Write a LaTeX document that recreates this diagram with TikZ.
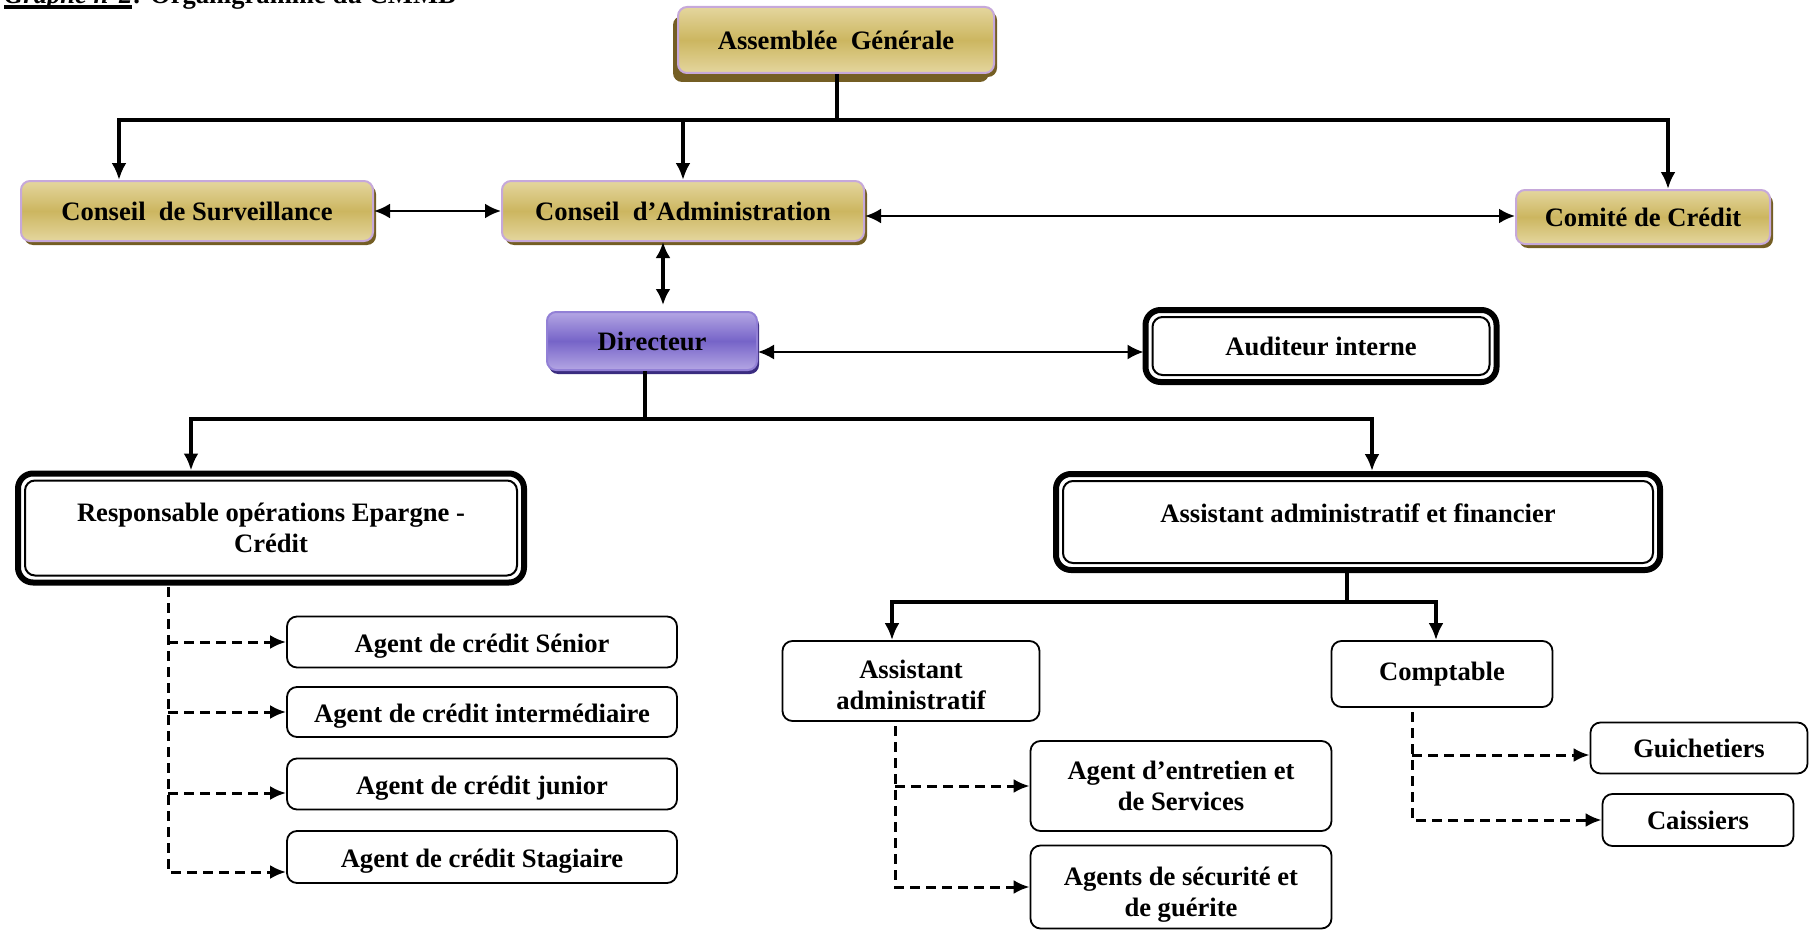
\documentclass[tikz,border=0pt]{standalone}
\usepackage{fontspec}
\setmainfont{Liberation Serif}
\newcommand{\souligne}[1]{\setbox0\hbox{#1}\rlap{\rule[-5pt]{\wd0}{3.5pt}}\box0}
\usepackage{xcolor}
\definecolor{goldlt}{RGB}{228,214,158}
\definecolor{golddk}{RGB}{204,182,96}
\definecolor{goldsh}{RGB}{116,94,36}
\definecolor{lavedge}{RGB}{198,168,218}
\definecolor{purplt}{RGB}{180,166,228}
\definecolor{purpdk}{RGB}{118,100,200}
\definecolor{purpsh}{RGB}{58,44,128}
\definecolor{purpedge}{RGB}{146,128,214}
\usetikzlibrary{arrows.meta, positioning, shadows}

\begin{document}
\begin{tikzpicture}[x=1pt, y=-1pt,
    font=\fontsize{26.6}{31}\selectfont\bfseries,
    goldbox/.style={draw=lavedge, line width=2pt, rounded corners=9pt,
      top color=goldlt, bottom color=goldlt, middle color=golddk,
      align=center, inner sep=0pt,
      drop shadow={shadow xshift=3pt, shadow yshift=-4pt, fill=goldsh, opacity=1}},
    dirbox/.style={draw=purpedge, line width=2pt, rounded corners=9pt,
      top color=purplt, bottom color=purplt, middle color=purpdk,
      align=center, inner sep=0pt,
      drop shadow={shadow xshift=2pt, shadow yshift=-4pt, fill=purpsh, opacity=1}},
    plainbox/.style={draw, line width=1.8pt, rounded corners=10pt, fill=white,
      align=center, inner sep=0pt},
    agentbox/.style={plainbox, minimum width=390pt, text height=26pt, text depth=6pt},
    dblbox/.style={draw, line width=2pt, rounded corners=10pt, fill=white,
      align=center, inner sep=0pt,
      append after command={\pgfextra{\draw[line width=6pt, rounded corners=15pt]
        ([shift={(-6pt,6pt)}]\tikzlastnode.north west) rectangle
        ([shift={(6pt,-6pt)}]\tikzlastnode.south east);}}},
    hier/.style={line width=4pt},
    harr/.style={line width=4pt, -{Latex[length=17pt, width=15pt]}},
    duo/.style={line width=2.6pt, {Latex[length=16pt, width=15pt]}-{Latex[length=16pt, width=15pt]}},
    dsh/.style={line width=3pt, dash pattern=on 10pt off 6pt, -{Latex[length=16pt, width=14pt]}}]

  \useasboundingbox (0,0) rectangle (1815,931);

  % Titre (coupe en haut)
  \node[anchor=base west, inner sep=0pt] (titre) at (4,4)
    {\souligne{\textit{Graphe n°2}} : Organigramme du CMMB};

  % Organes
  \node[goldbox, minimum width=316pt, minimum height=66pt,
    drop shadow={shadow xshift=-5pt, shadow yshift=-9pt, fill=goldsh, opacity=1}]
    (ag) at (836,40) {Assemblée~ Générale};
  \node[goldbox, minimum width=352pt, minimum height=60pt] (cs) at (197,211) {Conseil~ de Surveillance};
  \node[goldbox, minimum width=362pt, minimum height=60pt] (ca) at (683,211) {Conseil~ d’Administration};
  \node[goldbox, minimum width=254pt, minimum height=54pt] (cc) at (1643,217) {Comité de Crédit};

  % Direction
  \node[dirbox, minimum width=210pt, minimum height=58pt] (dir) at (652,341) {Directeur};
  \node[dblbox, minimum width=337pt, minimum height=58pt] (aud) at (1321,346) {Auditeur interne};

  % Responsables
  \node[dblbox, minimum width=492pt, minimum height=95pt] (resp) at (271,528)
    {Responsable opérations Epargne -\\Crédit};
  \node[dblbox, minimum width=590pt, minimum height=82pt, text depth=18pt] (aaf) at (1358,522)
    {Assistant administratif et financier};

  % Agents de credit
  \node[agentbox, minimum height=51pt] (agsen) at (482,642) {Agent de crédit Sénior};
  \node[agentbox, minimum height=50pt] (agint) at (482,712) {Agent de crédit intermédiaire};
  \node[agentbox, minimum height=51pt] (agjun) at (482,784) {Agent de crédit junior};
  \node[agentbox, minimum height=52pt] (agsta) at (482,857) {Agent de crédit Stagiaire};

  % Administration et comptabilite
  \node[plainbox, minimum width=257pt, minimum height=80pt, text height=58pt] (aa) at (911,681) {Assistant\\administratif};
  \node[plainbox, minimum width=221pt, minimum height=66pt] (cpt) at (1442,674) {Comptable};
  \node[plainbox, minimum width=301pt, minimum height=90pt] (ent) at (1181,786) {Agent d’entretien et\\de Services};
  \node[plainbox, minimum width=301pt, minimum height=83pt, text height=64pt] (sec) at (1181,887) {Agents de sécurité et\\de guérite};
  \node[plainbox, minimum width=217pt, minimum height=51pt] (gui) at (1699,748) {Guichetiers};
  \node[plainbox, minimum width=191pt, minimum height=52pt] (cai) at (1698,820) {Caissiers};

  % Assemblee vers conseils
  \coordinate (b1) at (837,120);
  \draw[hier] (ag.south -| b1) -- (b1);
  \draw[harr] (b1) -| ([xshift=-78pt]cs.north);
  \draw[harr] (b1) -| ([xshift=25pt]cc.north);
  \draw[harr] (ca.north |- b1) -- (ca.north);
  \draw[duo] (cs.east) -- (ca.west);
  \draw[duo] ([yshift=-5pt]ca.east) -- ([yshift=-5pt]ca.east -| cc.west);
  \draw[duo, line width=4pt, shorten <=6pt] ([xshift=11pt]dir.north) -- ([xshift=11pt]dir.north |- ca.south);
  \draw[duo, line width=2pt, shorten >=8pt] ([yshift=-11pt]dir.east) -- ([yshift=-11pt]dir.east -| aud.west);

  % Directeur vers responsables
  \coordinate (b3) at (645,419);
  \draw[hier] (dir.south -| b3) -- (b3);
  \draw[harr] (b3) -| ([xshift=-80pt, yshift=9pt]resp.north);
  \draw[harr] (b3) -| ([xshift=14pt, yshift=9pt]aaf.north);

  % Assistant administratif et financier
  \coordinate (b5) at (1347,602);
  \draw[hier] ([yshift=-9pt]aaf.south -| b5) -- (b5);
  \draw[harr] (b5) -| ([xshift=-19pt]aa.north);
  \draw[harr] (b5) -| ([xshift=-6pt]cpt.north);

  % Liens en pointilles
  \coordinate (rt) at (168,587);
  \draw[dsh] (rt) |- ([yshift=-15pt]agsta.west);
  \draw[dsh] (rt |- agsen.west) -- (agsen.west);
  \draw[dsh] (rt |- agint.west) -- (agint.west);
  \draw[dsh] ([yshift=-9pt]agjun.west -| rt) -- ([yshift=-9pt]agjun.west);

  \coordinate (at) at (895,726);
  \draw[dsh] (at) |- (sec.west);
  \draw[dsh] (at |- ent.west) -- (ent.west);

  \coordinate (ct) at (1412,712);
  \draw[dsh] (ct) |- (cai.west);
  \draw[dsh] ([yshift=-7pt]gui.west -| ct) -- ([yshift=-7pt]gui.west);
\end{tikzpicture}
\end{document}
